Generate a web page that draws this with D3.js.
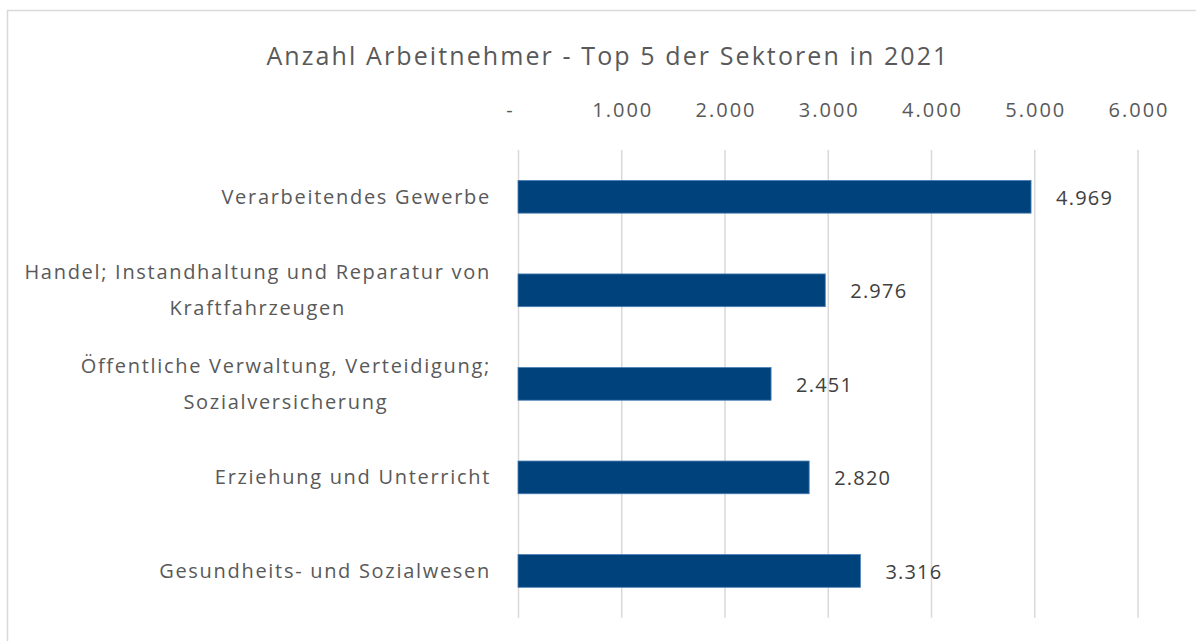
<!DOCTYPE html>
<html>
<head>
<meta charset="utf-8">
<script src="https://cdn.jsdelivr.net/npm/d3@7"></script>
<style>
  body { margin: 0; background: #fff; }
  svg text { font-family: "Open Sans", sans-serif; }
</style>
</head>
<body>
<svg id="chart" width="1196" height="641"></svg>
<script>
const svg = d3.select('#chart')
const width = 1196
const height = 641

// data
const sectors = [
  ['Verarbeitendes Gewerbe'],
  ['Handel; Instandhaltung und Reparatur von', 'Kraftfahrzeugen'],
  ['Öffentliche Verwaltung, Verteidigung;', 'Sozialversicherung'],
  ['Erziehung und Unterricht'],
  ['Gesundheits- und Sozialwesen']
]
const employees = [4969, 2976, 2451, 2820, 3316]
const xTicks = [0, 1000, 2000, 3000, 4000, 5000, 6000]
const title = 'Anzahl Arbeitnehmer - Top 5 der Sektoren in 2021'

const barColor = '#00427c'
const textColor = '#595959'
const gridColor = '#d9d9d9'

const plotLeft = 518
const plotRight = 1137.5
const plotTop = 150
const plotBottom = 617.7
const labelRight = 491

const fmt = d => d === 0 ? '-' : d3.format(',')(d).replace(/,/g, '.')

// chart border
svg.append('rect')
  .attr('x', 7.5).attr('y', 10.5)
  .attr('width', 1300).attr('height', 800)
  .attr('fill', 'none')
  .attr('stroke', gridColor)
  .attr('stroke-width', 1.5)

svg.append('text')
  .attr('x', 608).attr('y', 65)
  .attr('text-anchor', 'middle')
  .attr('font-size', '25px')
  .attr('letter-spacing', '2.1px')
  .attr('fill', textColor)
  .text(title)

const x = d3.scaleLinear().domain([0, 6000]).range([plotLeft, plotRight])
const keys = sectors.map(s => s.join(' '))
const y = d3.scaleBand().domain(keys).range([plotTop, plotBottom])
  .paddingInner(0.65).paddingOuter(0.325)

// gridlines
const grid = svg.append('g')
  .attr('transform', `translate(0, ${plotTop})`)
  .call(d3.axisBottom(x).tickValues(xTicks).tickSize(plotBottom - plotTop).tickFormat(''))
grid.select('.domain').remove()
grid.selectAll('.tick line').attr('stroke', gridColor).attr('stroke-width', 1.5)

// tick labels on top
const topAxis = svg.append('g')
  .attr('transform', 'translate(0, 117)')
  .call(d3.axisTop(x).tickValues(xTicks).tickSize(0).tickPadding(0).tickFormat(fmt))
topAxis.select('.domain').remove()
topAxis.selectAll('.tick text')
  .attr('font-size', '20px')
  .attr('letter-spacing', '2px')
  .attr('fill', textColor)
  .attr('font-family', '"Open Sans", sans-serif')
  .attr('dx', d => d === 0 ? -8 : 1)

// bars
svg.selectAll('rect.bar')
  .data(employees)
  .enter()
  .append('rect')
  .attr('class', 'bar')
  .attr('x', x(0))
  .attr('y', (d, i) => y(keys[i]))
  .attr('width', d => x(d) - x(0))
  .attr('height', y.bandwidth())
  .attr('fill', barColor)
  .attr('stroke', '#4a7fb5')
  .attr('stroke-width', 0.8)

// value labels
svg.selectAll('text.value')
  .data(employees)
  .enter()
  .append('text')
  .attr('class', 'value')
  .attr('x', d => x(d) + 25)
  .attr('y', (d, i) => y(keys[i]) + y.bandwidth() / 2 + 8)
  .attr('font-size', '20px')
  .attr('letter-spacing', '1.2px')
  .attr('fill', '#404040')
  .text(d => fmt(d))

// category labels, multi-line ones centred under the longest line
const lineH = 36
sectors.forEach((lines, i) => {
  const cy = y(keys[i]) + y.bandwidth() / 2
  const t = svg.append('text')
    .attr('font-size', '20px')
    .attr('letter-spacing', '1.7px')
    .attr('fill', textColor)
    .attr('text-anchor', 'middle')
  lines.forEach((l, j) => {
    t.append('tspan')
      .attr('y', cy + 7 + (j - (lines.length - 1) / 2) * lineH)
      .text(l)
  })
  let maxW = 0
  t.selectAll('tspan').each(function () { maxW = Math.max(maxW, this.getComputedTextLength()) })
  t.selectAll('tspan').attr('x', labelRight - maxW / 2)
})
</script>
</body>
</html>
